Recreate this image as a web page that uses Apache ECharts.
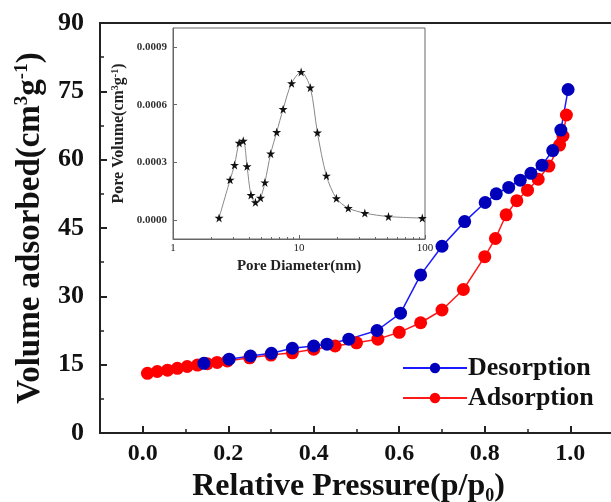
<!DOCTYPE html>
<html>
<head>
<meta charset="utf-8">
<script src="https://cdn.jsdelivr.net/npm/echarts@6/dist/echarts.min.js"></script>
<style>
html, body { margin: 0; padding: 0; background: #fff; }
#main { width: 611px; height: 502px; }
</style>
</head>
<body>
<div id="main"></div>
<script>
// 吸附支（红）
var adsP = [0.011, 0.034, 0.058, 0.081, 0.104, 0.128, 0.151, 0.174, 0.198, 0.25, 0.30, 0.35, 0.40, 0.45, 0.50, 0.55, 0.60, 0.65, 0.70, 0.75, 0.80, 0.825, 0.85, 0.875, 0.90, 0.925, 0.95, 0.975, 0.983, 0.991]
var adsV = [13.1, 13.5, 13.8, 14.2, 14.6, 14.9, 15.2, 15.5, 15.8, 16.5, 17.1, 17.6, 18.4, 19.1, 19.8, 20.6, 22.1, 24.2, 27.0, 31.5, 38.7, 42.7, 47.9, 51.0, 53.3, 55.7, 58.6, 63.2, 65.2, 69.8]
// 脱附支（蓝）
var desP = [0.143, 0.202, 0.252, 0.301, 0.350, 0.400, 0.431, 0.482, 0.548, 0.603, 0.650, 0.700, 0.753, 0.801, 0.827, 0.856, 0.883, 0.908, 0.934, 0.959, 0.978, 0.995]
var desV = [15.3, 16.2, 16.9, 17.5, 18.6, 19.1, 19.5, 20.6, 22.5, 26.3, 34.7, 41.0, 46.4, 50.6, 52.5, 53.9, 55.5, 57.0, 58.8, 62.0, 66.5, 75.4]
// 孔径分布（插图）
var poreD = [2.32, 2.84, 3.08, 3.35, 3.61, 3.87, 4.16, 4.51, 4.95, 5.36, 5.96, 6.65, 7.48, 8.73, 10.4, 12.3, 14.0, 16.5, 19.8, 24.6, 33.3, 51.3, 95.2]
var poreV = [0.00001, 0.000209, 0.000286, 0.000401, 0.000412, 0.000279, 0.000129, 0.000091, 0.000115, 0.000195, 0.000345, 0.000457, 0.000577, 0.000712, 0.000771, 0.000689, 0.000455, 0.00023, 0.000112, 0.000061, 0.000035, 0.000017, 0.000009]
// 刻度
var xMajor = [0, 0.2, 0.4, 0.6, 0.8, 1.0]
var xMinor = [0.1, 0.3, 0.5, 0.7, 0.9]
var insetYTicks = [0, 0.0003, 0.0006, 0.0009]
var insetXMinor = [2, 3, 4, 5, 6, 7, 8, 9, 20, 30, 40, 50, 60, 70, 80, 90]

var serif = '"Liberation Serif", "DejaVu Serif", serif'
var starPath = 'path://M50,0 L61,35 L98,35 L68,57 L79,91 L50,70 L21,91 L32,57 L2,35 L39,35 Z'

function zip(a, b) {
    return a.map(function (v, i) { return [v, b[i]] })
}

var myChart = echarts.init(document.getElementById('main'))

var option = {
    animation: false,
    grid: [
        { left: 100, top: 23, right: -2, bottom: 69, show: true, borderColor: '#222', borderWidth: 2, outerBoundsMode: 'none', containLabel: false },
        { left: 173, top: 28, width: 252, height: 211, show: true, borderColor: '#666', borderWidth: 1, outerBoundsMode: 'none', containLabel: false }
    ],
    legend: {
        data: ['Desorption', 'Adsorption'],
        orient: 'vertical',
        left: 397,
        top: 350,
        itemWidth: 64,
        itemHeight: 13,
        itemGap: 4,
        textStyle: { fontFamily: serif, fontWeight: 'bold', fontSize: 26, color: '#111', padding: [0, 0, 0, -4] }
    },
    xAxis: [
        {
            type: 'value', gridIndex: 0, min: -0.1, max: 1.1,
            splitLine: { show: false },
            axisLine: { onZero: false, lineStyle: { color: '#222', width: 2 } },
            axisTick: { inside: true, length: 7, lineStyle: { width: 2, color: '#222' }, customValues: xMajor },
            axisLabel: {
                customValues: xMajor, margin: 9,
                formatter: function (v) { return v.toFixed(1) },
                fontFamily: serif, fontWeight: 'bold', fontSize: 24, color: '#111'
            },
            name: '{b|Relative Pressure(p/p}{sub|0}{b|)}',
            nameLocation: 'middle',
            nameGap: 36,
            nameTextStyle: {
                padding: [0, 16, 0, 0],
                rich: {
                    b: { fontFamily: serif, fontWeight: 'bold', fontSize: 32, color: '#111', lineHeight: 36 },
                    sub: { fontFamily: serif, fontWeight: 'bold', fontSize: 18, color: '#111', verticalAlign: 'bottom', lineHeight: 36 }
                }
            }
        },
        {
            type: 'value', gridIndex: 0, min: -0.1, max: 1.1, position: 'bottom',
            splitLine: { show: false },
            axisLine: { show: false, onZero: false },
            axisTick: { inside: true, length: 4, lineStyle: { width: 1.5, color: '#222' }, customValues: xMinor },
            axisLabel: { show: false }
        },
        {
            type: 'log', logBase: 10, gridIndex: 1, min: 1, max: 100,
            splitLine: { show: false },
            axisLine: { onZero: false, lineStyle: { color: '#666', width: 1 } },
            axisTick: { inside: true, length: 4, lineStyle: { color: '#666' } },
            axisLabel: { margin: 4, fontFamily: serif, fontSize: 11, color: '#222' },
            name: 'Pore Diameter(nm)',
            nameLocation: 'middle',
            nameGap: 20,
            nameTextStyle: { fontFamily: serif, fontWeight: 'bold', fontSize: 15, color: '#222' }
        },
        {
            type: 'log', logBase: 10, gridIndex: 1, min: 1, max: 100, position: 'bottom',
            splitLine: { show: false },
            axisLine: { show: false, onZero: false },
            axisTick: { inside: true, length: 2, lineStyle: { color: '#666' }, customValues: insetXMinor },
            axisLabel: { show: false }
        }
    ],
    yAxis: [
        {
            type: 'value', gridIndex: 0, min: 0, max: 90, interval: 15,
            splitLine: { show: false },
            axisLine: { onZero: false, lineStyle: { color: '#222', width: 2 } },
            axisTick: { inside: true, length: 7, lineStyle: { width: 2, color: '#222' } },
            minorTick: { show: true, splitNumber: 2, length: 4, lineStyle: { width: 1.5, color: '#222' } },
            axisLabel: { margin: 16, fontFamily: serif, fontWeight: 'bold', fontSize: 26, color: '#111' },
            name: '{b|Volume adsorbed(cm}{sup|3}{b|g}{sup|-1}{b|)}',
            nameLocation: 'middle',
            nameGap: 45,
            nameTextStyle: {
                rich: {
                    b: { fontFamily: serif, fontWeight: 'bold', fontSize: 33, color: '#111', lineHeight: 36 },
                    sup: { fontFamily: serif, fontWeight: 'bold', fontSize: 19, color: '#111', verticalAlign: 'top', lineHeight: 36 }
                }
            }
        },
        {
            type: 'value', gridIndex: 1, min: -0.0001, max: 0.001,
            splitLine: { show: false },
            axisLine: { onZero: false, lineStyle: { color: '#666', width: 1 } },
            axisTick: { inside: true, length: 4, lineStyle: { color: '#666' }, customValues: insetYTicks },
            axisLabel: {
                customValues: insetYTicks, margin: 6,
                formatter: function (v) { return v.toFixed(4) },
                fontFamily: serif, fontWeight: 'bold', fontSize: 11, color: '#333'
            },
            name: '{b|Pore Volume(cm}{sup|3}{b|g}{sup|-1}{b|)}',
            nameLocation: 'middle',
            nameGap: 46,
            nameTextStyle: {
                rich: {
                    b: { fontFamily: serif, fontWeight: 'bold', fontSize: 16, color: '#222', lineHeight: 17 },
                    sup: { fontFamily: serif, fontWeight: 'bold', fontSize: 10, color: '#222', verticalAlign: 'top', lineHeight: 17 }
                }
            }
        }
    ],
    series: [
        {
            name: 'Adsorption', type: 'line', xAxisIndex: 0, yAxisIndex: 0,
            data: zip(adsP, adsV),
            symbol: 'circle', symbolSize: 13,
            itemStyle: { color: '#ff0000' },
            lineStyle: { color: '#ff1a1a', width: 1.5 }
        },
        {
            name: 'Desorption', type: 'line', xAxisIndex: 0, yAxisIndex: 0,
            data: zip(desP, desV),
            symbol: 'circle', symbolSize: 13,
            itemStyle: { color: '#0000bb' },
            lineStyle: { color: '#1a1aff', width: 1.5 }
        },
        {
            name: 'PSD', type: 'line', xAxisIndex: 2, yAxisIndex: 1,
            data: zip(poreD, poreV),
            smooth: 0.3,
            symbol: starPath, symbolSize: 9,
            itemStyle: { color: '#111' },
            lineStyle: { color: '#888', width: 1 }
        }
    ]
}

myChart.setOption(option)
</script>
</body>
</html>
